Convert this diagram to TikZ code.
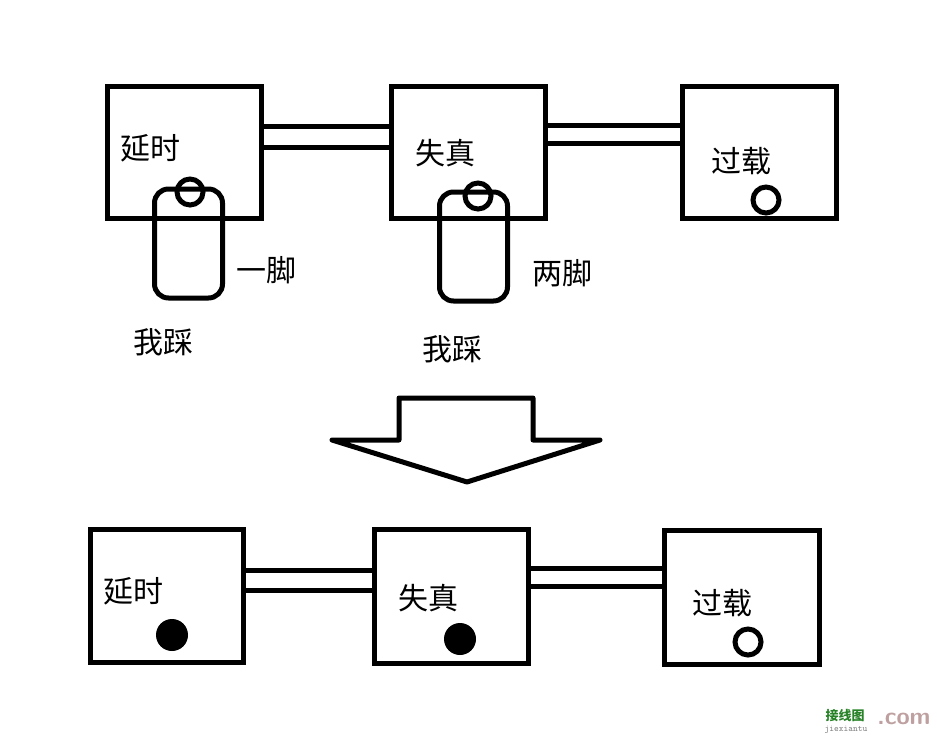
\documentclass[tikz,border=0pt]{standalone}
\usepackage{fontspec}
\newfontfamily\cjk{Noto Sans CJK SC}
\usepackage{xcolor}
\usetikzlibrary{positioning}
\definecolor{wmgreen}{RGB}{40,130,40}
\definecolor{wmgray}{RGB}{190,160,160}

\begin{document}
\begin{tikzpicture}[x=1pt, y=-1pt, line width=5pt,
    box/.style={draw, minimum width=154pt, minimum height=132pt, inner sep=0pt, outer sep=0pt},
    pedal/.style={draw, rounded corners=14pt, minimum width=68pt, minimum height=109pt, inner sep=0pt},
    knob/.style={draw, circle, minimum size=26pt, inner sep=0pt},
    dot/.style={fill, circle, minimum size=32pt, inner sep=0pt},
    lbl/.style={font=\cjk\fontsize{30}{30}\selectfont, inner sep=0pt}]
    \useasboundingbox (0,0) rectangle (937,736);
    % before
    \node(T1) at (184.5,152) [box] {};
    \node(T2) at (468.5,152) [box] {};
    \node(T3) at (759.5,152) [box] {};
    \draw (T1.east |- 0,126) rectangle (T2.west |- 0,147);
    \draw (T2.east |- 0,125) rectangle (T3.west |- 0,143);
    \node(TL1) at (150,148) [lbl] {延时};
    \node(TL2) at (445,153) [lbl] {失真};
    \node(TL3) at (741,161) [lbl] {过载};
    \node(TK3) at (766,200) [knob] {};
    \node(P1) at (188.5,243.5) [pedal] {};
    \node(K1) at (190,192) [knob] {};
    \node(P2) at (473.5,246.5) [pedal] {};
    \node(K2) at (478,196) [knob] {};
    \node(F1) at (266,270) [lbl] {一脚};
    \node(F2) at (562,273) [lbl] {两脚};
    \node(S1) at (163,342) [lbl] {我踩};
    \node(S2) at (452,349) [lbl] {我踩};
    % arrow
    \draw[line join=round, line cap=round] (332,440) -- (399,440) -- (399,398) -- (533,398)
      -- (533,440) -- (600,440) -- (467,482) -- cycle;
    % after
    \node(B1) at (166.5,596) [box, minimum width=153pt, minimum height=133pt] {};
    \node(B2) at (451,596) [box, minimum width=154pt, minimum height=134pt] {};
    \node(B3) at (741.5,597) [box, minimum width=155pt, minimum height=134pt] {};
    \draw (B1.east |- 0,570) rectangle (B2.west |- 0,590);
    \draw (B2.east |- 0,568) rectangle (B3.west |- 0,586);
    \node(BL1) at (133,591) [lbl] {延时};
    \node(BL2) at (428,598) [lbl] {失真};
    \node(BL3) at (722,603) [lbl] {过载};
    \node(BD1) at (172,635) [dot] {};
    \node(BD2) at (460,639) [dot] {};
    \node(BK3) at (748,642) [knob] {};
    % mark
    \node(W1) at (845,716) [inner sep=0pt, text=wmgreen, font=\cjk\fontsize{13}{13}\selectfont\bfseries] {接线图};
    \node(W2) at (846,730) [inner sep=0pt, text=gray, font=\ttfamily\fontsize{9}{9}\selectfont] {jiexiantu};
    \node(W3) at (904,719) [inner sep=0pt, text=wmgray, font=\sffamily\bfseries\fontsize{24}{24}\selectfont] {.com};
\end{tikzpicture}
\end{document}
